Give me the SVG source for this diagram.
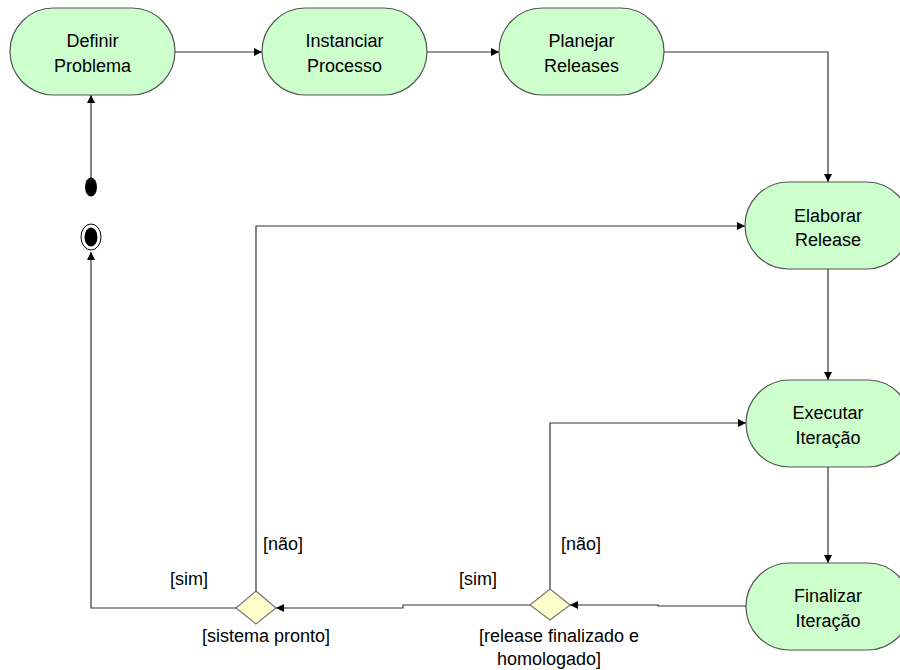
<svg xmlns="http://www.w3.org/2000/svg" width="900" height="670" viewBox="0 0 900 670">
  <style>
    .act { fill: #ccffcc; stroke: #555; stroke-width: 1.2; }
    .dec { fill: #ffffcc; stroke: #777; stroke-width: 1.2; }
    .lbl { font-family: "Liberation Sans", Arial, sans-serif; font-size: 18px; fill: #000; text-anchor: middle; }
    .guard { font-family: "Liberation Sans", Arial, sans-serif; font-size: 18px; fill: #000; }
    .flow { fill: none; stroke: #333; stroke-width: 1.2; marker-end: url(#arrow); }
  </style>
  <defs>
    <marker id="arrow" viewBox="0 0 10 10" refX="10" refY="5" markerWidth="8" markerHeight="8" markerUnits="userSpaceOnUse" orient="auto">
      <path d="M0,0 L10,5 L0,10 z" fill="#000"/>
    </marker>
  </defs>
  <rect width="900" height="670" fill="#fff"/>

  <g id="connectors">
    <path class="flow" d="M175,52 H262"/>
    <path class="flow" d="M427,52 H499"/>
    <path class="flow" d="M664,52 H828 V182"/>
    <path class="flow" d="M828,269 V380"/>
    <path class="flow" d="M828,467 V563"/>
    <path class="flow" d="M746,606 H658 V605 H570"/>
    <path class="flow" d="M530,605 H403 V608 H276"/>
    <path class="flow" d="M256,592 V226 H745"/>
    <path class="flow" d="M550,589 V423 H746"/>
    <path class="flow" d="M236,608 H91 V252"/>
    <path class="flow" d="M91,178 V95"/>
  </g>

  <g id="initial">
    <ellipse cx="91" cy="187" rx="6" ry="9.5" fill="#000"/>
  </g>
  <g id="final">
    <ellipse cx="91" cy="237" rx="10" ry="13" fill="#fff" stroke="#000" stroke-width="1"/>
    <ellipse cx="91" cy="237" rx="6.5" ry="9.5" fill="#000"/>
  </g>

  <g id="definir-problema">
    <rect class="act" x="10" y="8" width="165" height="87" rx="43.5" ry="43.5"/>
    <text class="lbl" x="92.5" y="47">Definir</text>
    <text class="lbl" x="92.5" y="72">Problema</text>
  </g>
  <g id="instanciar-processo">
    <rect class="act" x="262" y="8" width="165" height="87" rx="43.5" ry="43.5"/>
    <text class="lbl" x="344.5" y="47">Instanciar</text>
    <text class="lbl" x="344.5" y="72">Processo</text>
  </g>
  <g id="planejar-releases">
    <rect class="act" x="499" y="8" width="165" height="87" rx="43.5" ry="43.5"/>
    <text class="lbl" x="581.5" y="47">Planejar</text>
    <text class="lbl" x="581.5" y="72">Releases</text>
  </g>
  <g id="elaborar-release">
    <rect class="act" x="745" y="182" width="165" height="87" rx="43.5" ry="43.5"/>
    <text class="lbl" x="828" y="222">Elaborar</text>
    <text class="lbl" x="828" y="246">Release</text>
  </g>
  <g id="executar-iteracao">
    <rect class="act" x="746" y="380" width="165" height="87" rx="43.5" ry="43.5"/>
    <text class="lbl" x="828" y="419">Executar</text>
    <text class="lbl" x="828" y="444">Iteração</text>
  </g>
  <g id="finalizar-iteracao">
    <rect class="act" x="746" y="563" width="165" height="87" rx="43.5" ry="43.5"/>
    <text class="lbl" x="828" y="602">Finalizar</text>
    <text class="lbl" x="828" y="627">Iteração</text>
  </g>

  <g id="decisao-release">
    <path class="dec" d="M550,589 L570,605 L550,620 L530,605 z"/>
    <text class="guard" x="561" y="550">[não]</text>
    <text class="guard" x="459" y="585">[sim]</text>
    <text class="lbl" x="559" y="642">[release finalizado e</text>
    <text class="lbl" x="549" y="665">homologado]</text>
  </g>
  <g id="decisao-sistema">
    <path class="dec" d="M256,591 L276,608 L256,624 L236,608 z"/>
    <text class="guard" x="263" y="550">[não]</text>
    <text class="guard" x="170" y="585">[sim]</text>
    <text class="lbl" x="266" y="642">[sistema pronto]</text>
  </g>
</svg>
